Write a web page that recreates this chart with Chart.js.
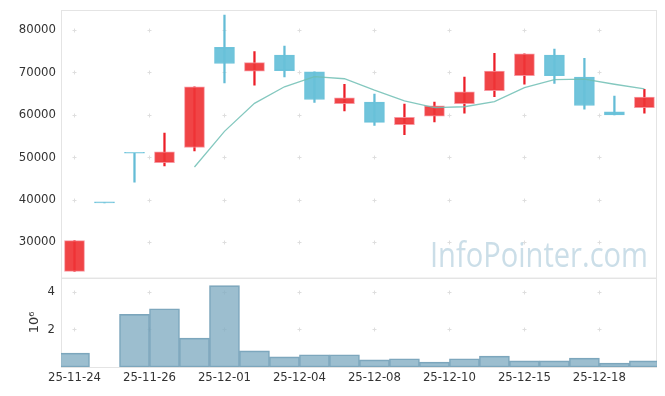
<!DOCTYPE html>
<html>
<head>
<meta charset="utf-8">
<script src="https://cdn.jsdelivr.net/npm/chart.js@4.4.1/dist/chart.umd.min.js"></script>
<style>
  html, body { margin: 0; padding: 0; background: #fff; }
  #wrap { width: 665px; height: 396px; }
</style>
</head>
<body>
<div id="wrap"><canvas id="chart" width="665" height="396"></canvas></div>
<script>
// trading days
const dates = ['25-11-24', '25-11-25', '25-11-26', '25-11-27', '25-11-28', '25-12-01', '25-12-02', '25-12-03', '25-12-04', '25-12-05',
    '25-12-08', '25-12-09', '25-12-10', '25-12-11', '25-12-12', '25-12-15', '25-12-16', '25-12-17', '25-12-18', '25-12-19'];
const opens = [23100, 39250, 50950, 48750, 52300, 75900, 70300, 74100, 70100, 62600, 63000, 57700, 59700, 62600, 65700, 69200, 74100, 68900, 60700, 61700];
const closes = [30350, 39250, 50950, 51250, 66600, 72100, 72300, 70400, 63600, 64000, 58200, 59400, 62100, 65400, 70300, 74400, 69200, 62200, 60000, 64200];
const highs = [30350, 39250, 50950, 55700, 66600, 83500, 74900, 76200, 70100, 67200, 64900, 62500, 63000, 68900, 74500, 74400, 75500, 73300, 64400, 66000];
const lows = [23100, 39250, 44150, 47950, 51500, 67500, 67000, 68900, 62900, 60900, 57500, 55300, 58300, 60400, 64300, 67200, 67400, 61300, 60000, 60400];
const ma5 = [null, null, null, null, 47700, 56100, 62700, 66600, 69000, 68500, 65800, 63300, 61700, 61900, 63100, 66400, 68300, 68400, 67200, 66100];
const volumes = [740000, 0, 2800000, 3100000, 1540000, 4330000, 860000, 540000, 650000, 650000, 380000, 440000, 260000, 440000, 580000, 330000, 330000, 470000, 210000, 330000];

const xTickValues = [0, 2.5, 5, 7.5, 10, 12.5, 15, 17.5];
const xTickLabels = ['25-11-24', '25-11-26', '25-12-01', '25-12-04', '25-12-08', '25-12-10', '25-12-15', '25-12-18'];
const priceTicks = [30000, 40000, 50000, 60000, 70000, 80000];
const volumeTicks = [2000000, 4000000];

const UP_FILL = 'rgba(239, 52, 54, 0.92)';
const UP_LINE = 'rgba(236, 30, 40, 1)';
const DOWN_FILL = 'rgba(104, 193, 217, 0.95)';
const DOWN_LINE = 'rgba(100, 188, 214, 1)';

function isUp(i) {
    return closes[i] > opens[i];
}

const bodies = dates.map((d, i) => ({x: i, y: [opens[i], closes[i]]}));
const wicks = dates.map((d, i) => ({x: i, y: [lows[i], highs[i]]}));
const maPoints = dates.map((d, i) => ({x: i, y: ma5[i]}));
const volPoints = dates.map((d, i) => ({x: i, y: volumes[i]}));

// light panel frames, "+" grid marks and the watermark
const decor = {
    id: 'decor',
    beforeDatasetsDraw(chart) {
        const ctx = chart.ctx;
        const area = chart.chartArea;
        const xs = chart.scales.x;
        ctx.save();
        ['y', 'vol'].forEach(id => {
            const s = chart.scales[id];
            ctx.strokeStyle = '#e4e4e4';
            ctx.lineWidth = 1;
            ctx.strokeRect(area.left + 0.5, s.top + 0.5, area.right - area.left - 1, s.bottom - s.top);
            ctx.strokeStyle = '#dedede';
            s.ticks.forEach(t => {
                const py = Math.round(s.getPixelForValue(t.value)) + 0.5;
                xs.ticks.forEach(tx => {
                    const px = Math.round(xs.getPixelForValue(tx.value)) + 0.5;
                    ctx.beginPath();
                    ctx.moveTo(px - 2, py);
                    ctx.lineTo(px + 2, py);
                    ctx.moveTo(px, py - 2);
                    ctx.lineTo(px, py + 2);
                    ctx.stroke();
                });
            });
        });
        // watermark, squeezed a bit to the width of the original
        const ys = chart.scales.y;
        const text = 'InfoPointer.com';
        ctx.font = '34px "Open Sans"';
        const w = ctx.measureText(text).width;
        const sx = 218 / w;
        ctx.translate(area.right - 9, ys.bottom - 11);
        ctx.scale(sx, 1);
        ctx.fillStyle = 'rgba(160, 195, 214, 0.55)';
        ctx.textAlign = 'right';
        ctx.textBaseline = 'alphabetic';
        ctx.fillText(text, 0, 0);
        ctx.restore();
    }
};

const font = {family: '"DejaVu Sans Condensed", "DejaVu Sans"', size: 13};

function fitLeft(scale) {
    scale.width = 61;
    scale.paddingTop = 0;
    scale.paddingBottom = 0;
}

new Chart(document.getElementById('chart'), {
    data: {
        datasets: [
            {
                type: 'line',
                data: maPoints,
                yAxisID: 'y',
                borderColor: 'rgba(110, 190, 180, 0.85)',
                borderWidth: 1.3,
                pointRadius: 0,
                tension: 0,
                spanGaps: false,
            },
            {
                type: 'bar',
                data: bodies,
                yAxisID: 'y',
                grouped: false,
                barThickness: 20,
                minBarLength: 1,
                borderSkipped: false,
                backgroundColor: ctx => isUp(ctx.dataIndex) ? UP_FILL : DOWN_FILL,
                borderColor: ctx => isUp(ctx.dataIndex) ? 'rgba(246, 140, 150, 0.9)' : DOWN_FILL,
                borderWidth: 1,
            },
            {
                type: 'bar',
                data: wicks,
                yAxisID: 'y',
                grouped: false,
                barThickness: 1.6,
                borderWidth: 0,
                backgroundColor: ctx => isUp(ctx.dataIndex) ? UP_LINE : DOWN_LINE,
            },
            {
                type: 'bar',
                data: volPoints,
                yAxisID: 'vol',
                grouped: false,
                barPercentage: 1,
                categoryPercentage: 1,
                backgroundColor: 'rgba(128, 172, 194, 0.78)',
                borderColor: 'rgba(110, 155, 180, 0.9)',
                borderWidth: 1,
                borderSkipped: false,
            },
        ]
    },
    options: {
        responsive: false,
        animation: false,
        layout: {
            padding: {top: 10, right: 8, left: 0, bottom: 0},
        },
        plugins: {
            legend: {display: false},
            tooltip: {enabled: false},
        },
        scales: {
            x: {
                type: 'linear',
                min: -0.45,
                max: 19.42,
                offset: false,
                grid: {display: false, drawTicks: false, offset: false},
                border: {display: false},
                afterBuildTicks: scale => {
                    scale.ticks = xTickValues.map(v => ({value: v}));
                },
                afterFit: scale => {
                    scale.height = 29;
                },
                ticks: {
                    autoSkip: false,
                    maxRotation: 0,
                    padding: 3,
                    color: '#333',
                    font: font,
                    callback: (v) => xTickLabels[xTickValues.indexOf(v)],
                },
            },
            vol: {
                type: 'linear',
                position: 'left',
                stack: 'panels',
                stackWeight: 1,
                min: 0,
                max: 4750000,
                grid: {display: false, drawTicks: false},
                border: {display: false},
                afterBuildTicks: scale => {
                    scale.ticks = volumeTicks.map(v => ({value: v}));
                },
                afterFit: fitLeft,
                title: {
                    display: true,
                    text: '10\u2076',
                    color: '#333',
                    font: {family: '"DejaVu Sans"', size: 13},
                    padding: {top: 27, bottom: 0},
                },
                ticks: {
                    padding: 6,
                    color: '#333',
                    font: font,
                    callback: v => v / 1000000,
                },
            },
            y: {
                type: 'linear',
                position: 'left',
                stack: 'panels',
                stackWeight: 3,
                min: 21600,
                max: 84700,
                grid: {display: false, drawTicks: false},
                border: {display: false},
                afterBuildTicks: scale => {
                    scale.ticks = priceTicks.map(v => ({value: v}));
                },
                afterFit: fitLeft,
                ticks: {
                    padding: 5,
                    color: '#333',
                    font: font,
                    callback: v => String(v),
                },
            },
        },
    },
    plugins: [decor],
});
</script>
</body>
</html>
